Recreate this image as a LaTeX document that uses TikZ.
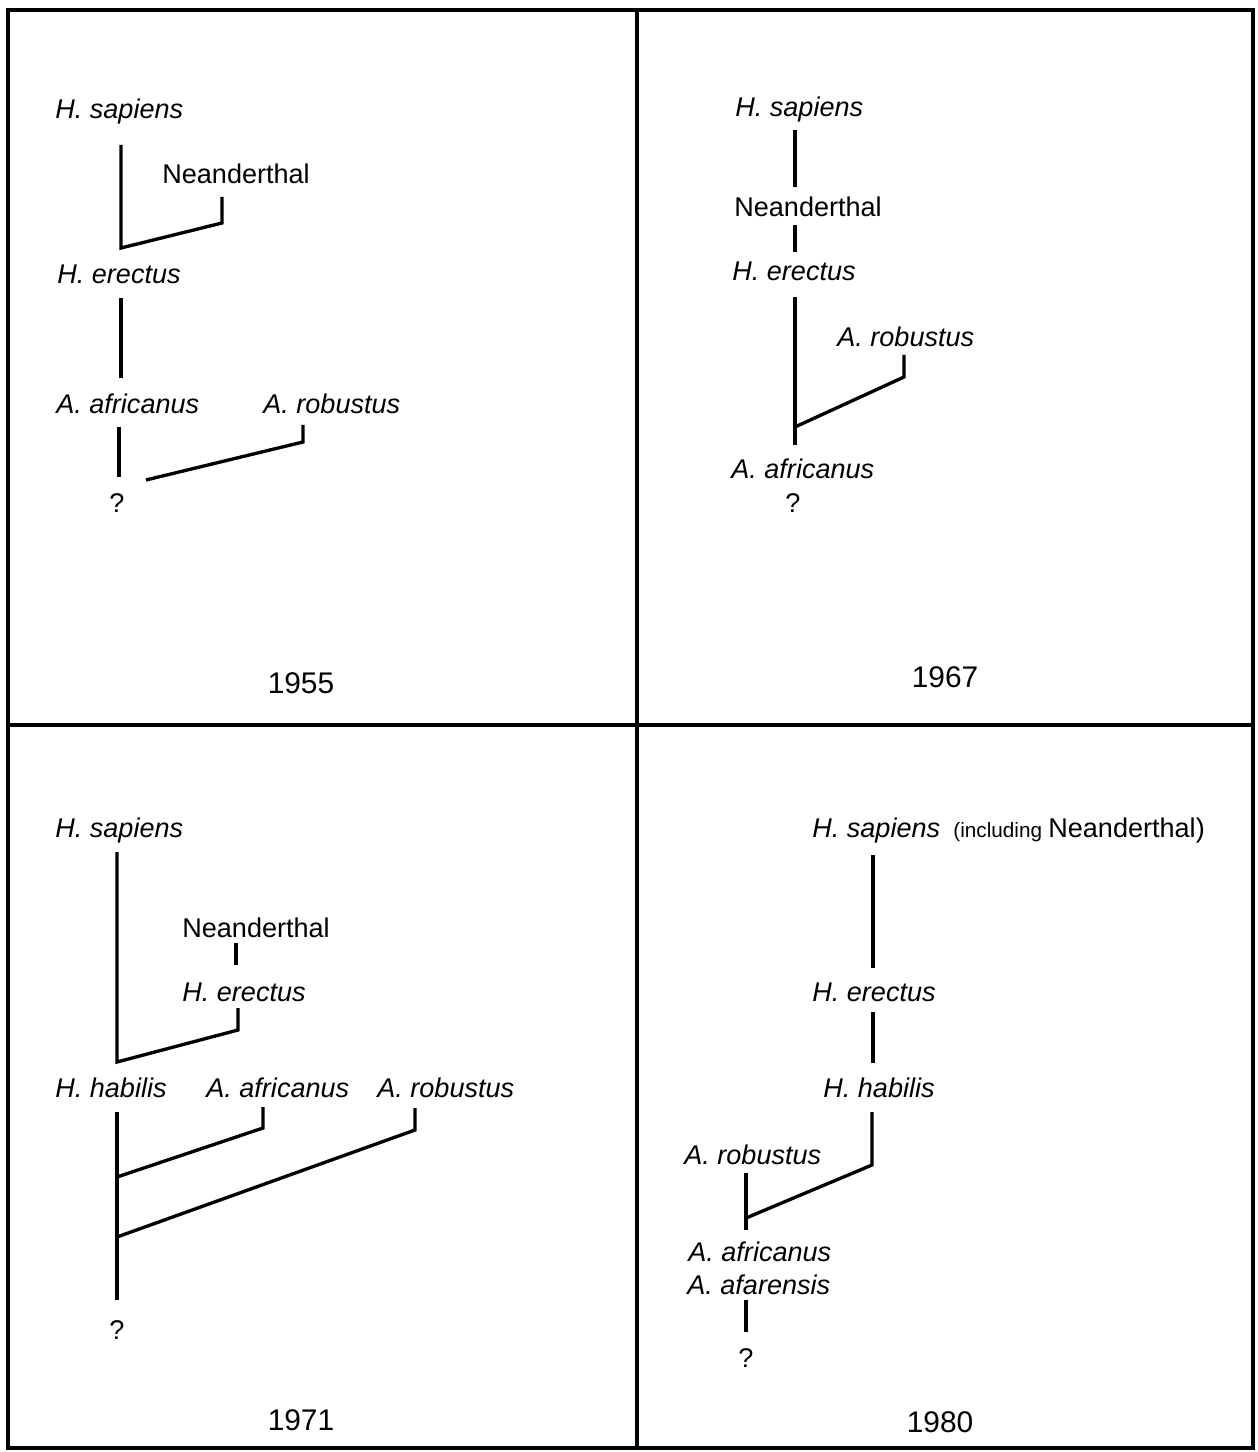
\documentclass[tikz,border=0pt]{standalone}
\usepackage{fontspec}
\setmainfont{Liberation Sans}
\usepackage{tikz}
\usetikzlibrary{positioning}

\tikzset{
    taxon/.style={font=\fontsize{15.4}{18}\selectfont\itshape, inner sep=0pt, anchor=base west},
    common/.style={font=\fontsize{15.4}{18}\selectfont, inner sep=0pt, anchor=base west},
    small/.style={font=\fontsize{11.8}{14}\selectfont, inner sep=0pt, anchor=base west},
    query/.style={font=\fontsize{15.4}{18}\selectfont, inner sep=0pt, anchor=base},
    year/.style={font=\fontsize{17}{20}\selectfont, inner sep=0pt, anchor=base},
    stem/.style={line width=1.9pt, line join=miter, line cap=butt},
    frame/.style={line width=1.8pt}
}

\begin{document}
\begin{tikzpicture}[x=0.02cm, y=-0.02cm]
    \useasboundingbox (0,0) rectangle (1257,1452);
    \fill[white] (0,0) rectangle (1257,1452);

    % frame
    \draw[frame] (8,10) rectangle (1253,1448);
    \draw[frame] (637,10) -- (637,1448);
    \draw[frame] (8,725) -- (1253,725);

    % 1955 panel
    \node[taxon]  (sap55) at (55,119)  {H. sapiens};
    \node[common] (nea55) at (162,184) {Neanderthal};
    \node[taxon]  (ere55) at (57,284)  {H. erectus};
    \node[taxon]  (afr55) at (56,414)  {A. africanus};
    \node[taxon]  (rob55) at (263,414) {A. robustus};
    \node[query]  (q55)   at (117,512) {?};
    \node[year]   (yr55)  at (301,693) {1955};
    \coordinate (s55a) at (121,145);
    \coordinate (s55b) at (121,248);
    \coordinate (s55c) at (222,223);
    \coordinate (s55d) at (222,197);
    \draw[stem] (s55a) -- (s55b) -- (s55c) -- (s55d);
    \coordinate (e55a) at (121,298);
    \coordinate (e55b) at (121,378);
    \draw[stem] (e55a) -- (e55b);
    \coordinate (a55a) at (119,427);
    \coordinate (a55b) at (119,477);
    \draw[stem] (a55a) -- (a55b);
    \coordinate (r55a) at (146,480);
    \coordinate (r55b) at (303,442);
    \coordinate (r55c) at (303,425);
    \draw[stem] (r55a) -- (r55b) -- (r55c);

    % 1967 panel
    \node[taxon]  (sap67) at (735,117) {H. sapiens};
    \node[common] (nea67) at (734,217) {Neanderthal};
    \node[taxon]  (ere67) at (732,281) {H. erectus};
    \node[taxon]  (rob67) at (837,347) {A. robustus};
    \node[taxon]  (afr67) at (731,479) {A. africanus};
    \node[query]  (q67)   at (793,512) {?};
    \node[year]   (yr67)  at (945,687) {1967};
    \coordinate (s67a) at (795,130);
    \coordinate (s67b) at (795,187);
    \draw[stem] (s67a) -- (s67b);
    \coordinate (n67a) at (795,225);
    \coordinate (n67b) at (795,252);
    \draw[stem] (n67a) -- (n67b);
    \coordinate (e67a) at (795,297);
    \coordinate (e67b) at (795,445);
    \draw[stem] (e67a) -- (e67b);
    \coordinate (r67a) at (795,427);
    \coordinate (r67b) at (904,377);
    \coordinate (r67c) at (904,355);
    \draw[stem] (r67a) -- (r67b) -- (r67c);

    % 1971 panel
    \node[taxon]  (sap71) at (55,837)   {H. sapiens};
    \node[common] (nea71) at (182,937)  {Neanderthal};
    \node[taxon]  (ere71) at (182,1001) {H. erectus};
    \node[taxon]  (hab71) at (55,1097)  {H. habilis};
    \node[taxon]  (afr71) at (206,1097) {A. africanus};
    \node[taxon]  (rob71) at (377,1097) {A. robustus};
    \node[query]  (q71)   at (117,1339) {?};
    \node[year]   (yr71)  at (301,1430) {1971};
    \coordinate (s71a) at (117,852);
    \coordinate (s71b) at (117,1062);
    \coordinate (s71c) at (238,1030);
    \coordinate (s71d) at (238,1008);
    \draw[stem] (s71a) -- (s71b) -- (s71c) -- (s71d);
    \coordinate (n71a) at (236,943);
    \coordinate (n71b) at (236,965);
    \draw[stem] (n71a) -- (n71b);
    \coordinate (h71a) at (117,1112);
    \coordinate (h71b) at (117,1300);
    \draw[stem] (h71a) -- (h71b);
    \coordinate (a71a) at (117,1177);
    \coordinate (a71b) at (263,1128);
    \coordinate (a71c) at (263,1107);
    \draw[stem] (a71a) -- (a71b) -- (a71c);
    \coordinate (r71a) at (117,1237);
    \coordinate (r71b) at (415,1130);
    \coordinate (r71c) at (415,1108);
    \draw[stem] (r71a) -- (r71b) -- (r71c);

    % 1980 panel
    \node[taxon]  (sap80) at (812,837)  {H. sapiens};
    \node[small]  (inc80) at (953,837)  {(including};
    \node[common] (nea80) at (1048,837) {Neanderthal)};
    \node[taxon]  (ere80) at (812,1001) {H. erectus};
    \node[taxon]  (hab80) at (823,1097) {H. habilis};
    \node[taxon]  (rob80) at (684,1164) {A. robustus};
    \node[taxon]  (afr80) at (688,1261) {A. africanus};
    \node[taxon]  (afa80) at (687,1294) {A. afarensis};
    \node[query]  (q80)   at (746,1367) {?};
    \node[year]   (yr80)  at (940,1432) {1980};
    \coordinate (s80a) at (873,855);
    \coordinate (s80b) at (873,968);
    \draw[stem] (s80a) -- (s80b);
    \coordinate (e80a) at (873,1012);
    \coordinate (e80b) at (873,1063);
    \draw[stem] (e80a) -- (e80b);
    \coordinate (h80a) at (872,1112);
    \coordinate (h80b) at (872,1165);
    \coordinate (h80c) at (746,1218);
    \draw[stem] (h80a) -- (h80b) -- (h80c);
    \coordinate (r80a) at (746,1173);
    \coordinate (r80b) at (746,1230);
    \draw[stem] (r80a) -- (r80b);
    \coordinate (f80a) at (746,1300);
    \coordinate (f80b) at (746,1332);
    \draw[stem] (f80a) -- (f80b);
\end{tikzpicture}
\end{document}
